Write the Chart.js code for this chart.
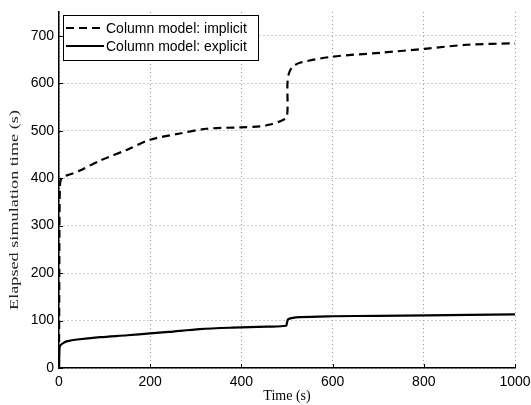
<!DOCTYPE html>
<html><head><meta charset="utf-8">
<script src="https://cdn.jsdelivr.net/npm/chart.js@4"></script>
<style>html,body{margin:0;padding:0;background:#fff}#wrap{width:531px;height:405px}</style>
</head><body><div id="wrap"><canvas id="c" width="531" height="405"></canvas></div>
<script>
const seriesNames = ["Column model: implicit", "Column model: explicit"];
const implicitT = [0, 0.5, 1, 2, 4, 10, 25, 46, 90, 150, 200, 265, 324, 397, 441, 463, 490, 500, 501, 504, 511, 528, 601, 704, 807, 895, 1000];
const implicitV = [0, 150, 300, 380, 397, 403, 408, 416, 437, 460, 481, 494, 504, 507, 509, 513, 522, 530, 600, 620, 633, 643, 656, 664, 673, 681, 684];
const explicitT = [0, 0.5, 1, 3, 10, 17, 40, 90, 150, 200, 240, 309, 380, 456, 498, 500, 503, 528, 601, 700, 807, 900, 1000];
const explicitV = [0, 25, 42, 48, 53, 56, 60, 65, 69, 73, 76, 82, 85, 87, 89, 96, 103, 107, 109, 110, 111, 112, 113];
const xTicks = [0, 200, 400, 600, 800, 1000];
const yTicks = [0, 100, 200, 300, 400, 500, 600, 700];
const xTitle = "Time (s)";
const yTitle = "Elapsed simulation time (s)";

const toPts = (t, v) => t.map((x, i) => ({x, y: v[i]}));

const legendPlugin = {
  id: 'boxLegend',
  afterDatasetsDraw(chart) {
    const ctx = chart.ctx;
    const x0 = 63, y0 = 15, w = 195, h = 45;
    ctx.save();
    ctx.fillStyle = '#fff';
    ctx.fillRect(x0, y0, w, h);
    ctx.strokeStyle = '#000';
    ctx.lineWidth = 1;
    ctx.setLineDash([]);
    ctx.strokeRect(x0 + 0.5, y0 + 0.5, w, h);
    ctx.font = '14px "Liberation Sans", Arial, sans-serif';
    ctx.textBaseline = 'middle';
    ctx.fillStyle = '#000';
    const rows = [y0 + 13, y0 + 31];
    chart.data.datasets.forEach((ds, i) => {
      ctx.beginPath();
      ctx.lineWidth = 2;
      ctx.setLineDash(ds.borderDash || []);
      ctx.moveTo(x0 + 3, rows[i]);
      ctx.lineTo(x0 + 41, rows[i]);
      ctx.stroke();
      ctx.setLineDash([]);
      ctx.fillText(ds.label, x0 + 43, rows[i] + 1);
    });
    ctx.restore();
  }
};

const axisExtras = {
  id: 'axisExtras',
  afterDraw(chart) {
    const ctx = chart.ctx, xs = chart.scales.x, ys = chart.scales.y;
    const a = chart.chartArea;
    ctx.save();
    ctx.strokeStyle = '#000';
    ctx.lineWidth = 1;
    ctx.setLineDash([]);
    ctx.beginPath();
    xTicks.forEach(v => { const px = Math.round(xs.getPixelForValue(v)) + 0.5; ctx.moveTo(px, a.bottom); ctx.lineTo(px, a.bottom - 4); });
    yTicks.forEach(v => { const py = Math.round(ys.getPixelForValue(v)) + 0.5; ctx.moveTo(a.left, py); ctx.lineTo(a.left + 4, py); });
    ctx.stroke();
    // y title (stretched along its direction like the original rendering)
    ctx.translate(15, 210);
    ctx.rotate(-Math.PI / 2);
    ctx.font = '13px "Liberation Serif", "Times New Roman", serif';
    const w = ctx.measureText(yTitle).width;
    ctx.scale(200 / w, 1);
    ctx.fillStyle = '#222';
    ctx.textAlign = 'center';
    ctx.textBaseline = 'middle';
    ctx.fillText(yTitle, 0, 0);
    ctx.restore();
  }
};

new Chart(document.getElementById('c'), {
  type: 'line',
  data: {
    datasets: [
      {label: seriesNames[0], data: toPts(implicitT, implicitV), borderColor: '#000', borderWidth: 2.2, borderDash: [8, 5], pointRadius: 0, tension: 0.3, fill: false},
      {label: seriesNames[1], data: toPts(explicitT, explicitV), borderColor: '#000', borderWidth: 2.2, pointRadius: 0, tension: 0.3, fill: false}
    ]
  },
  options: {
    responsive: false,
    animation: false,
    layout: {padding: {top: 12, right: 16, left: 0, bottom: 0}},
    plugins: {legend: {display: false}, tooltip: {enabled: false}},
    scales: {
      x: {
        type: 'linear', min: 0, max: 1000,
        afterBuildTicks: s => { s.ticks = xTicks.map(v => ({value: v})); },
        afterFit: s => { s.height = 37; s.paddingRight = 0; s.paddingLeft = 0; },
        grid: {color: '#999', lineWidth: 1, drawTicks: false},
        border: {color: '#000', width: 1.5, dash: [1, 3]},
        ticks: {padding: 6, color: '#000', font: {family: '"Liberation Sans", Arial, sans-serif', size: 14}, maxRotation: 0, callback: v => String(v)},
        title: {display: true, text: xTitle, color: '#000', font: {family: '"Liberation Serif", "Times New Roman", serif', size: 14}, padding: {top: -4, bottom: 0}}
      },
      y: {
        type: 'linear', min: 0, max: 750,
        afterBuildTicks: s => { s.ticks = yTicks.map(v => ({value: v})); },
        afterFit: s => { s.width = 59; s.paddingTop = 0; s.paddingBottom = 0; },
        grid: {color: '#999', lineWidth: 1, drawTicks: false},
        border: {color: '#000', width: 1.5, dash: [1, 3]},
        ticks: {padding: 5, color: '#000', font: {family: '"Liberation Sans", Arial, sans-serif', size: 14}, callback: v => String(v)},
        title: {display: false}
      }
    }
  },
  plugins: [legendPlugin, axisExtras]
});
</script></body></html>
